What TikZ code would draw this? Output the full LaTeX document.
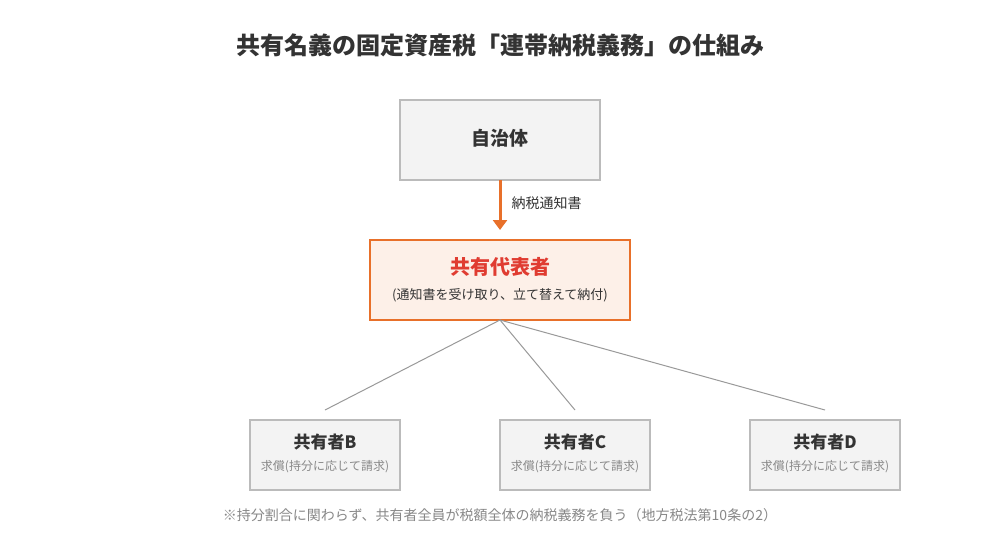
\documentclass[tikz,border=0pt]{standalone}
\usepackage{fontspec}
\setmainfont{Noto Sans CJK JP}
\usetikzlibrary{arrows.meta}
\definecolor{bordergray}{HTML}{BBBBBB}
\definecolor{boxgray}{HTML}{F3F3F3}
\definecolor{orng}{HTML}{E8702A}
\definecolor{orngfill}{HTML}{FDF0E8}
\definecolor{redt}{HTML}{E03C31}
\definecolor{txt}{HTML}{333333}
\definecolor{subt}{HTML}{888888}
\begin{document}
\begin{tikzpicture}[x=1pt,y=-1pt,
  box/.style={draw=bordergray,fill=boxgray,line width=1.5pt},
  t/.style={text=txt,font=\bfseries},
  link/.style={draw=gray!80,line width=1pt}]
\useasboundingbox[fill=white] (0,0) rectangle (1000,550);
\node[t,font=\bfseries\fontsize{24}{28}\selectfont] (title) at (500,45) {共有名義の固定資産税「連帯納税義務」の仕組み};
\draw[box] (400,100) rectangle (600,180);
\node[t,font=\bfseries\fontsize{19}{22}\selectfont] (gov) at (500,138) {自治体};
\draw[orng,line width=1.5pt,fill=orngfill] (370,240) rectangle (630,320);
\node[font=\bfseries\fontsize{20}{24}\selectfont,text=redt] (rep) at (500,267) {共有代表者};
\node[font=\fontsize{13}{16}\selectfont,text=txt] (repsub) at (500,295) {(通知書を受け取り、立て替えて納付)};
\coordinate (gb) at (500,180);
\coordinate (rt) at (500,230);
\draw[orng,line width=3pt,-{Triangle[length=10pt,width=14pt]}] (gb) -- (rt);
\node[anchor=west,font=\fontsize{14}{16}\selectfont,text=txt] (lbl) at (508,203) {納税通知書};
\coordinate (rb) at (500,320);
\foreach \x/\n in {325/B,575/C,825/D}{
  \coordinate (c\n) at (\x,410);
  \draw[link] (rb) -- (c\n);
  \draw[box] (\x-75,420) rectangle (\x+75,490);
  \node[t,font=\bfseries\fontsize{17}{20}\selectfont] (o\n) at (\x,442) {共有者\n};
  \node[font=\fontsize{12}{14}\selectfont,text=subt] (s\n) at (\x,467) {求償(持分に応じて請求)};
}
\node[font=\fontsize{14}{16}\selectfont,text=subt] (note) at (500,515) {※持分割合に関わらず、共有者全員が税額全体の納税義務を負う（地方税法第10条の2）};
\end{tikzpicture}
\end{document}
